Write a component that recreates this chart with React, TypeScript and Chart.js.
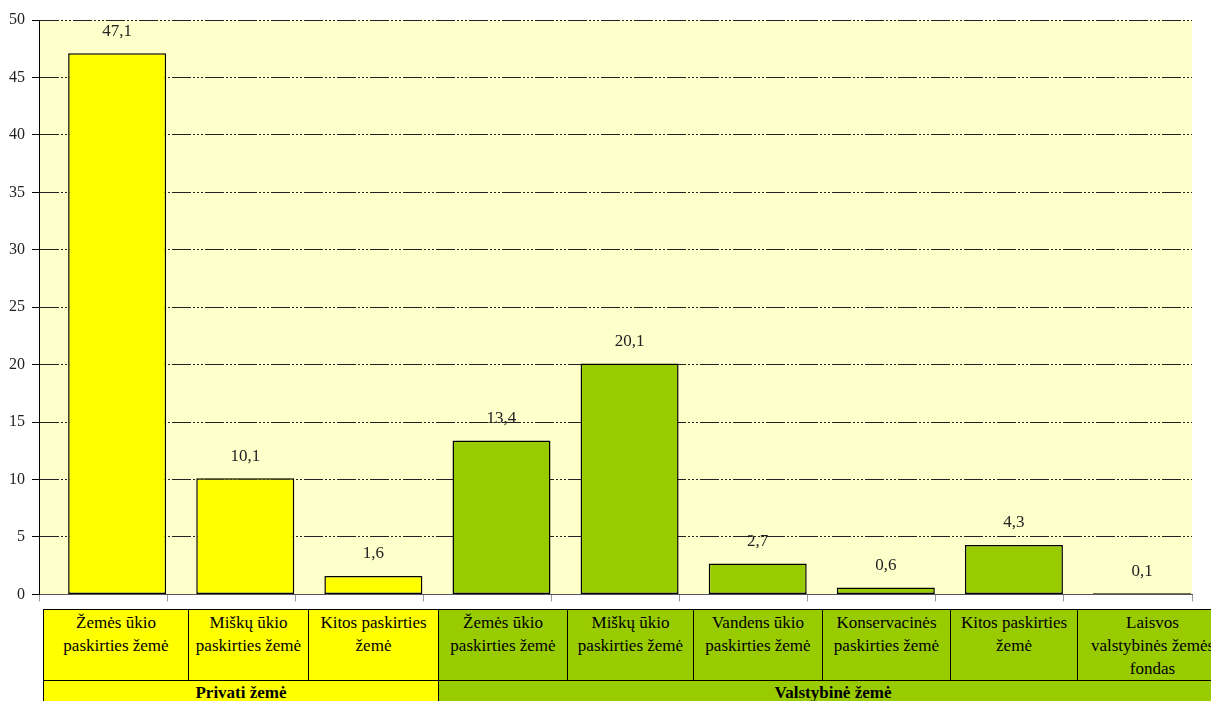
import React, { useEffect, useRef } from "react";
import { Chart, registerables } from "chart.js";

Chart.register(...registerables);

// ---- data ----
const CATEGORY_LINES: string[][] = [
  ["Žemės ūkio", "paskirties žemė"],
  ["Miškų ūkio", "paskirties žemė"],
  ["Kitos paskirties", "žemė"],
  ["Žemės ūkio", "paskirties žemė"],
  ["Miškų ūkio", "paskirties žemė"],
  ["Vandens ūkio", "paskirties žemė"],
  ["Konservacinės", "paskirties žemė"],
  ["Kitos paskirties", "žemė"],
  ["Laisvos", "valstybinės žemės", "fondas"],
];
const VALUES: number[] = [47.1, 10.1, 1.6, 13.4, 20.1, 2.7, 0.6, 4.3, 0.1];
const GROUP_NAMES: string[] = ["Privati žemė", "Valstybinė žemė"];
const GROUP_SIZES: number[] = [3, 6];
const Y_MIN = 0;
const Y_MAX = 50;
const Y_STEP = 5;

// ---- style / layout ----
const GROUP_COLORS = ["#FFFF00", "#99CC00"];
const PLOT_BG = "#FFFFCC";
const FONT = '"Liberation Serif", "Times New Roman", serif';
const BAR_SHIFT = 0.61; // bars sit right of category centre in the reference
const TABLE_COLS = [43, 188, 308, 438, 567, 693, 822, 950, 1077, 1227];
const ROW1_TOP = 609;
const ROW1_H = 72;
const ROW2_H = 26;

const groupIndex: number[] = [];
GROUP_SIZES.forEach((n, g) => {
  for (let k = 0; k < n; k++) groupIndex.push(g);
});

const fmt = (v: number) => v.toFixed(1).replace(".", ",");

export default function App() {
  const canvasRef = useRef<HTMLCanvasElement | null>(null);

  useEffect(() => {
    const canvas = canvasRef.current;
    if (!canvas) return;
    const n = VALUES.length;

    const bgPlugin = {
      id: "plotBg",
      beforeDraw(chart: any) {
        const { ctx, chartArea } = chart;
        ctx.save();
        ctx.fillStyle = PLOT_BG;
        ctx.fillRect(
          chartArea.left,
          chartArea.top,
          chartArea.right - chartArea.left,
          chartArea.bottom - chartArea.top
        );
        ctx.restore();
      },
    };

    const labelPlugin = {
      id: "valueLabels",
      afterDatasetsDraw(chart: any) {
        const { ctx } = chart;
        const meta = chart.getDatasetMeta(0);
        ctx.save();
        ctx.font = `17px ${FONT}`;
        ctx.fillStyle = "#222";
        ctx.textAlign = "center";
        ctx.textBaseline = "middle";
        meta.data.forEach((el: any, i: number) => {
          ctx.fillText(fmt(VALUES[i]), el.x, el.y - 22);
        });
        ctx.restore();
      },
    };

    const chart = new Chart(canvas, {
      type: "bar",
      data: {
        datasets: [
          {
            data: VALUES.map((v, i) => ({ x: i + BAR_SHIFT, y: v })),
            backgroundColor: VALUES.map((_, i) => GROUP_COLORS[groupIndex[i]]),
            borderColor: "#000",
            borderWidth: 1.5,
            borderSkipped: false,
            categoryPercentage: 1,
            barPercentage: 0.765,
          } as any,
        ],
      },
      options: {
        animation: false,
        responsive: false,
        events: [],
        layout: { padding: { top: 20, right: 19, left: 0, bottom: 0 } },
        plugins: { legend: { display: false }, tooltip: { enabled: false } },
        scales: {
          x: {
            type: "linear",
            min: 0,
            max: n,
            offset: false,
            ticks: { display: false, stepSize: 1 },
            grid: {
              offset: false,
              drawOnChartArea: false,
              drawTicks: true,
              tickLength: 7,
              tickColor: "#9a9a9a",
            },
            border: { display: true, color: "#555", width: 1 },
            afterFit: (s: any) => {
              s.height = 11;
            },
          },
          y: {
            min: Y_MIN,
            max: Y_MAX,
            ticks: {
              stepSize: Y_STEP,
              color: "#222",
              font: { family: FONT, size: 16 },
              padding: 7,
            },
            grid: {
              color: "#222",
              lineWidth: 1,
              tickColor: "#000",
              tickLength: 7,
              tickBorderDash: [],
            },
            border: { display: true, color: "#000", width: 1, dash: [19, 2, 2, 2, 2, 2, 2, 2] },
            afterFit: (s: any) => {
              s.width = 39;
            },
          },
        } as any,
      },
      plugins: [bgPlugin, labelPlugin],
    });

    return () => chart.destroy();
  }, []);

  const groupSpans: { start: number; end: number }[] = [];
  let idx = 0;
  GROUP_SIZES.forEach((s) => {
    groupSpans.push({ start: idx, end: idx + s });
    idx += s;
  });

  const cellBase: React.CSSProperties = {
    position: "absolute",
    boxSizing: "border-box",
    border: "1px solid #000",
    fontFamily: FONT,
    fontSize: 17,
    lineHeight: "23px",
    color: "#000",
    textAlign: "center",
    whiteSpace: "nowrap",
    overflow: "hidden",
  };

  return (
    <div
      style={{
        position: "fixed",
        left: 0,
        top: 0,
        width: 1211,
        height: 701,
        overflow: "hidden",
        background: "#fff",
      }}
    >
      <canvas
        ref={canvasRef}
        width={1211}
        height={611}
        style={{ position: "absolute", left: 0, top: 0, width: 1211, height: 611 }}
      />
      {CATEGORY_LINES.map((lines, i) => (
        <div
          key={"c" + i}
          style={{
            ...cellBase,
            left: TABLE_COLS[i],
            top: ROW1_TOP,
            width: TABLE_COLS[i + 1] - TABLE_COLS[i] + 1,
            height: ROW1_H,
            background: GROUP_COLORS[groupIndex[i]],
            paddingTop: 1,
          }}
        >
          {lines.map((l, k) => (
            <div key={k}>{l}</div>
          ))}
        </div>
      ))}
      {groupSpans.map((g, gi) => (
        <div
          key={"g" + gi}
          style={{
            ...cellBase,
            left: TABLE_COLS[g.start],
            top: ROW1_TOP + ROW1_H - 1,
            width: TABLE_COLS[g.end] - TABLE_COLS[g.start] + 1,
            height: ROW2_H,
            background: GROUP_COLORS[gi],
            fontWeight: "bold",
            paddingTop: 0,
          }}
        >
          {GROUP_NAMES[gi]}
        </div>
      ))}
    </div>
  );
}
